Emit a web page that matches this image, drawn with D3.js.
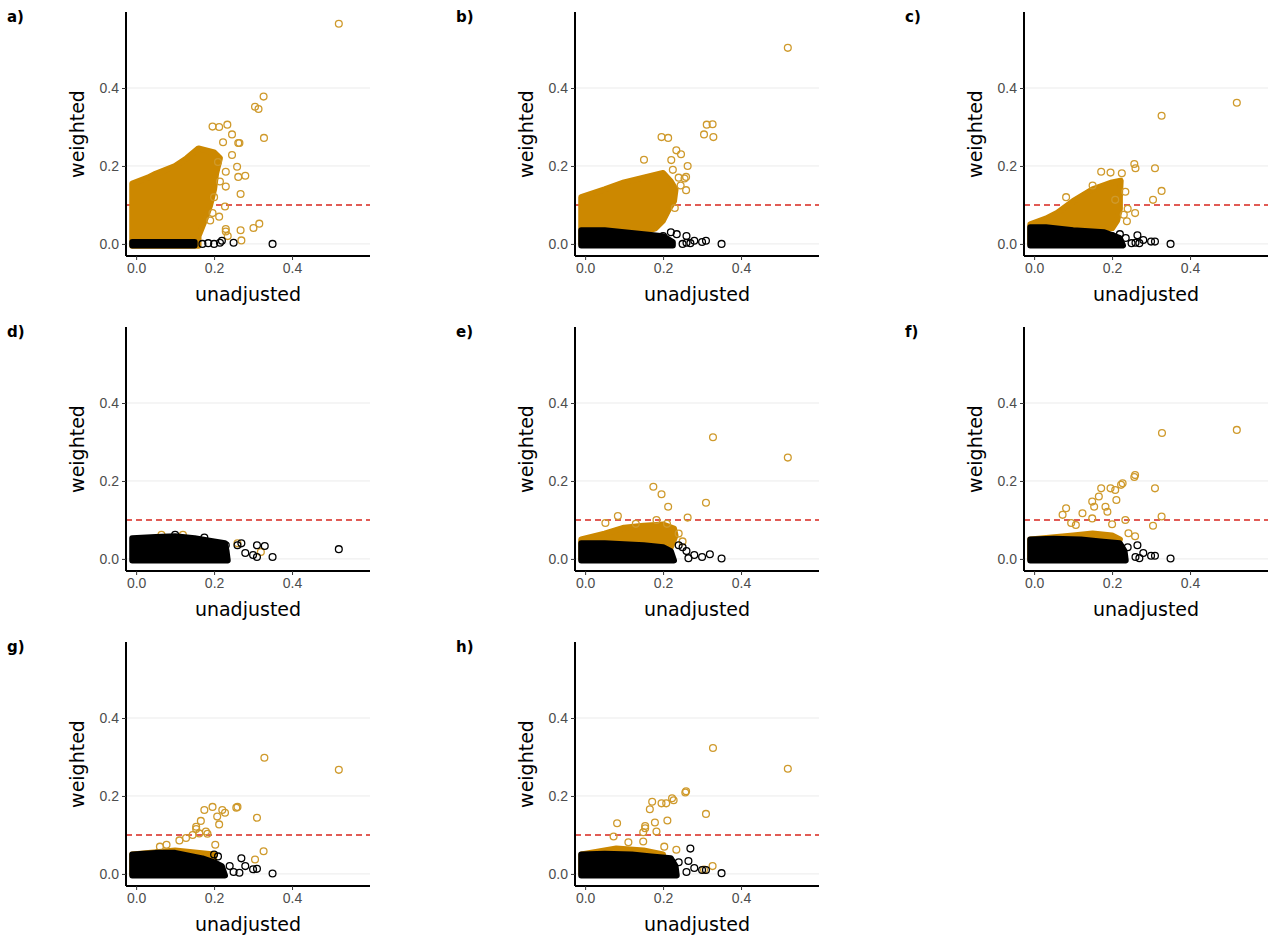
<!DOCTYPE html>
<html>
<head>
<meta charset="utf-8">
<style>
  body { margin: 0; background: #fff; font-family: "DejaVu Sans", sans-serif; }
  .tick text { fill: #4d4d4d; font-size: 14px; }
  .title { font-size: 19px; fill: #000; }
  .letter { font-size: 15px; font-weight: bold; }
</style>
</head>
<body>
<script src="https://cdn.jsdelivr.net/npm/d3@7"></script>
<script>
// panel labels
var panels = ["a)", "b)", "c)", "d)", "e)", "f)", "g)", "h)"];
var xTicks = [0.0, 0.2, 0.4];
var yTicks = [0.0, 0.2, 0.4];
var threshold = 0.1;

// dense overplotted regions, outlined as [unadjusted, weighted]
var orangeCloud = [
  [[-0.01,-0.005],[-0.01,0.155],[0.03,0.17],[0.05,0.18],[0.1,0.2],[0.13,0.22],[0.16,0.245],[0.2,0.235],[0.215,0.22],[0.205,0.18],[0.2,0.14],[0.19,0.1],[0.18,0.07],[0.17,0.045],[0.16,0.02],[0.16,-0.005]],
  [[-0.01,0],[-0.01,0.12],[0.05,0.14],[0.1,0.158],[0.15,0.17],[0.2,0.182],[0.22,0.16],[0.232,0.14],[0.228,0.11],[0.215,0.09],[0.2,0.06],[0.18,0.04],[0.15,0.03],[0.1,0.03],[0,0.01]],
  [[-0.01,0],[-0.01,0.05],[0.03,0.065],[0.06,0.08],[0.1,0.11],[0.15,0.14],[0.2,0.158],[0.222,0.162],[0.22,0.12],[0.22,0.09],[0.213,0.06],[0.2,0.04],[0.1,0.035],[0,0.03]],
  [],
  [[-0.01,0],[-0.01,0.05],[0.05,0.065],[0.1,0.08],[0.15,0.085],[0.2,0.088],[0.228,0.078],[0.232,0.06],[0.22,0.03],[0.1,0.03]],
  [[-0.01,0],[-0.01,0.05],[0.1,0.06],[0.15,0.065],[0.2,0.06],[0.22,0.05],[0.2,0.02]],
  [[-0.01,0],[-0.01,0.05],[0.1,0.06],[0.2,0.05],[0.2,0.02]],
  [[-0.01,0],[-0.01,0.05],[0.08,0.065],[0.15,0.06],[0.2,0.05],[0.2,0.02]]
];
var blackCloud = [
  [[-0.01,-0.004],[-0.01,0.005],[0.15,0.005],[0.15,-0.004]],
  [[-0.01,-0.004],[-0.01,0.035],[0.05,0.035],[0.1,0.03],[0.15,0.025],[0.2,0.02],[0.225,0.005],[0.225,-0.004]],
  [[-0.01,-0.004],[-0.01,0.043],[0.03,0.043],[0.1,0.035],[0.18,0.03],[0.22,0.015],[0.228,-0.004]],
  [[-0.01,-0.004],[-0.01,0.053],[0.05,0.056],[0.1,0.058],[0.15,0.053],[0.2,0.045],[0.228,0.04],[0.232,0.02],[0.235,-0.004]],
  [[-0.01,-0.004],[-0.01,0.04],[0.05,0.04],[0.15,0.035],[0.2,0.03],[0.22,0.02],[0.228,-0.004]],
  [[-0.01,-0.004],[-0.01,0.05],[0.05,0.052],[0.12,0.05],[0.17,0.045],[0.22,0.04],[0.232,0.02],[0.235,-0.004]],
  [[-0.01,-0.004],[-0.01,0.05],[0.05,0.054],[0.1,0.054],[0.17,0.04],[0.2,0.03],[0.22,0.02],[0.228,-0.004]],
  [[-0.01,-0.004],[-0.01,0.05],[0.05,0.052],[0.12,0.05],[0.17,0.045],[0.22,0.04],[0.232,0.02],[0.235,-0.004]]
];

// individually visible points
var orangePoints = [
  [[0.52,0.565],[0.327,0.378],[0.305,0.352],[0.314,0.346],[0.328,0.272],[0.196,0.301],[0.213,0.3],[0.234,0.306],[0.223,0.261],[0.246,0.281],[0.262,0.259],[0.265,0.259],[0.246,0.228],[0.259,0.198],[0.28,0.175],[0.262,0.172],[0.23,0.185],[0.23,0.147],[0.268,0.128],[0.228,0.096],[0.213,0.07],[0.196,0.079],[0.23,0.038],[0.23,0.032],[0.268,0.035],[0.301,0.041],[0.316,0.052],[0.235,0.02],[0.27,0.009],[0.21,0.21],[0.215,0.16],[0.2,0.12],[0.19,0.06]],
  [[0.52,0.503],[0.312,0.306],[0.327,0.307],[0.305,0.281],[0.329,0.274],[0.196,0.274],[0.213,0.272],[0.234,0.24],[0.246,0.23],[0.151,0.216],[0.221,0.215],[0.263,0.2],[0.259,0.172],[0.255,0.168],[0.23,0.092],[0.259,0.138],[0.24,0.17],[0.245,0.15],[0.225,0.19]],
  [[0.52,0.362],[0.327,0.329],[0.257,0.205],[0.26,0.194],[0.31,0.194],[0.327,0.136],[0.305,0.113],[0.172,0.185],[0.196,0.183],[0.225,0.181],[0.234,0.134],[0.208,0.113],[0.082,0.12],[0.259,0.079],[0.238,0.058],[0.15,0.15],[0.24,0.09],[0.23,0.075]],
  [[0.065,0.062],[0.12,0.062],[0.26,0.04],[0.32,0.018]],
  [[0.52,0.26],[0.328,0.312],[0.31,0.144],[0.175,0.185],[0.196,0.166],[0.213,0.134],[0.263,0.106],[0.084,0.11],[0.052,0.092],[0.183,0.1],[0.21,0.09],[0.24,0.065],[0.25,0.045],[0.13,0.09]],
  [[0.52,0.331],[0.328,0.323],[0.259,0.215],[0.257,0.21],[0.223,0.19],[0.227,0.194],[0.196,0.181],[0.172,0.181],[0.208,0.177],[0.211,0.151],[0.31,0.181],[0.166,0.16],[0.149,0.147],[0.154,0.134],[0.183,0.134],[0.188,0.121],[0.082,0.13],[0.073,0.113],[0.124,0.117],[0.149,0.104],[0.327,0.109],[0.305,0.085],[0.234,0.1],[0.2,0.089],[0.095,0.092],[0.107,0.087],[0.242,0.066],[0.259,0.058]],
  [[0.52,0.267],[0.329,0.298],[0.31,0.144],[0.257,0.17],[0.26,0.172],[0.221,0.164],[0.228,0.157],[0.196,0.172],[0.175,0.164],[0.208,0.147],[0.166,0.136],[0.213,0.127],[0.154,0.121],[0.154,0.115],[0.179,0.109],[0.183,0.103],[0.145,0.1],[0.162,0.104],[0.128,0.092],[0.111,0.086],[0.203,0.075],[0.327,0.058],[0.305,0.037],[0.078,0.075],[0.061,0.07]],
  [[0.52,0.27],[0.328,0.323],[0.259,0.212],[0.257,0.209],[0.223,0.194],[0.227,0.189],[0.196,0.181],[0.172,0.185],[0.208,0.181],[0.166,0.166],[0.211,0.137],[0.31,0.154],[0.179,0.132],[0.154,0.123],[0.154,0.117],[0.149,0.107],[0.183,0.109],[0.082,0.13],[0.073,0.096],[0.111,0.081],[0.149,0.083],[0.203,0.07],[0.234,0.062],[0.327,0.02],[0.305,0.011]]
];
var blackPoints = [
  [[0.17,0],[0.185,0.002],[0.2,0],[0.215,0.003],[0.22,0.008],[0.25,0.003],[0.35,0]],
  [[0.2,0.02],[0.22,0.03],[0.235,0.025],[0.26,0.02],[0.28,0.008],[0.3,0.005],[0.31,0.008],[0.35,0],[0.26,0.003],[0.27,0.002],[0.25,0]],
  [[0.2,0.02],[0.22,0.025],[0.235,0.015],[0.265,0.022],[0.28,0.01],[0.3,0.006],[0.31,0.006],[0.35,0],[0.26,0.003],[0.27,0.002],[0.25,0.002]],
  [[0.52,0.025],[0.31,0.035],[0.33,0.033],[0.35,0.005],[0.3,0.01],[0.31,0.005],[0.27,0.04],[0.26,0.035],[0.28,0.015],[0.23,0.035],[0.175,0.055],[0.1,0.062]],
  [[0.24,0.035],[0.25,0.03],[0.26,0.02],[0.28,0.01],[0.3,0.005],[0.32,0.012],[0.35,0.001],[0.265,0.002]],
  [[0.265,0.035],[0.28,0.015],[0.3,0.008],[0.31,0.008],[0.35,0.001],[0.26,0.005],[0.27,0.002],[0.24,0.03]],
  [[0.2,0.05],[0.21,0.045],[0.27,0.04],[0.28,0.02],[0.3,0.012],[0.31,0.013],[0.35,0.001],[0.265,0.003],[0.25,0.005],[0.24,0.02]],
  [[0.27,0.065],[0.265,0.033],[0.28,0.015],[0.3,0.01],[0.31,0.01],[0.35,0.002],[0.24,0.03],[0.26,0.005]]
];

var orange = "#cc8800", orangeRing = "#cf9a2c";

var svg = d3.select("body").append("svg")
    .attr("width", 1280).attr("height", 940);

var x = d3.scaleLinear().domain([-0.026, 0.6]).range([126, 370]);
var y = d3.scaleLinear().domain([-0.031, 0.595]).range([256, 12]);
var line = d3.line().x(d => x(d[0])).y(d => y(d[1]));

panels.forEach((label, i) => {
  var g = svg.append("g")
      .attr("transform", "translate(" + (i % 3) * 449 + "," + Math.floor(i / 3) * 315 + ")");

  g.selectAll(".grid").data(yTicks).enter().append("line")
      .attr("x1", 126).attr("x2", 370)
      .attr("y1", d => y(d)).attr("y2", d => y(d))
      .attr("stroke", "#ebebeb").attr("stroke-width", 1);

  g.append("line")
      .attr("x1", 126).attr("x2", 370)
      .attr("y1", y(threshold)).attr("y2", y(threshold))
      .attr("stroke", "#d7261e").attr("stroke-width", 1.6)
      .attr("stroke-dasharray", "6,4");

  // orange layer
  if (orangeCloud[i].length)
    g.append("path").attr("d", line(orangeCloud[i]) + "Z")
        .attr("fill", orange).attr("stroke", orange)
        .attr("stroke-width", 6).attr("stroke-linejoin", "round");
  g.selectAll(".op").data(orangePoints[i]).enter().append("circle")
      .attr("cx", d => x(d[0])).attr("cy", d => y(d[1])).attr("r", 3.4)
      .attr("fill", "none").attr("stroke", orangeRing).attr("stroke-width", 1.3);

  // black layer
  g.append("path").attr("d", line(blackCloud[i]) + "Z")
      .attr("fill", "#000").attr("stroke", "#000")
      .attr("stroke-width", 6).attr("stroke-linejoin", "round");
  g.selectAll(".bp").data(blackPoints[i]).enter().append("circle")
      .attr("cx", d => x(d[0])).attr("cy", d => y(d[1])).attr("r", 3.4)
      .attr("fill", "none").attr("stroke", "#000").attr("stroke-width", 1.3);

  g.append("g").attr("transform", "translate(0,256)")
      .call(d3.axisBottom(x).tickValues(xTicks).tickFormat(d3.format(".1f")).tickSize(4).tickPadding(3))
      .call(a => a.select(".domain").attr("stroke-width", 2).attr("d", "M126,0H370"));
  g.append("g").attr("transform", "translate(126,0)")
      .call(d3.axisLeft(y).tickValues(yTicks).tickFormat(d3.format(".1f")).tickSize(4).tickPadding(3))
      .call(a => a.select(".domain").attr("stroke-width", 2).attr("d", "M0,12V256"));
  g.selectAll(".tick line").attr("stroke", "#333");

  g.append("text").attr("class", "title")
      .attr("x", 248).attr("y", 301).attr("text-anchor", "middle").text("unadjusted");
  g.append("text").attr("class", "title")
      .attr("transform", "translate(84,134) rotate(-90)")
      .attr("text-anchor", "middle").text("weighted");
  g.append("text").attr("class", "letter").attr("x", 7).attr("y", 22).text(label);
});
</script>
</body>
</html>
